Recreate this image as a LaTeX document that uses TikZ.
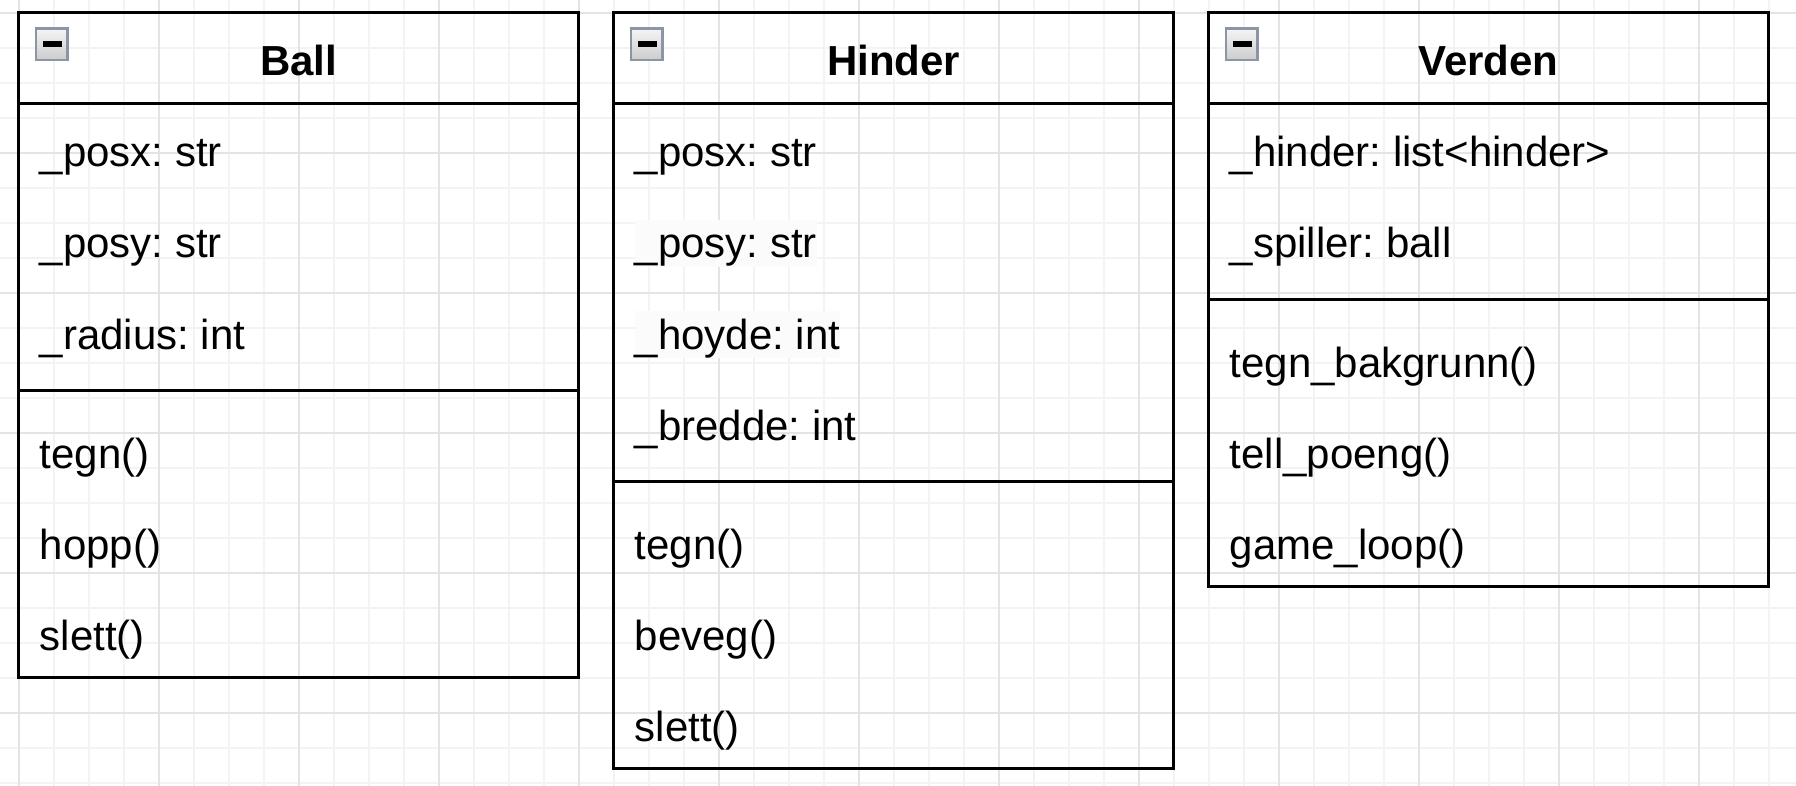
\documentclass[tikz,border=0pt]{standalone}
\usepackage{fontspec}
\setmainfont{Liberation Sans}
\frenchspacing
\definecolor{gridminor}{RGB}{243,243,243}
\definecolor{gridmajor}{RGB}{228,228,228}
\definecolor{iconborder}{RGB}{140,149,166}
\definecolor{labelbg}{RGB}{251,251,251}
\begin{document}
\begin{tikzpicture}[x=1pt,y=-1pt,
  classbox/.style={draw=black, line width=3.5pt, inner sep=0pt, outer sep=0pt, anchor=north west, minimum width=560pt},
  member/.style={anchor=base west, inner sep=0pt, font=\fontsize{42}{50}\selectfont\frenchspacing},
  classtitle/.style={anchor=base, inner sep=0pt, font=\fontsize{42}{50}\selectfont\bfseries},
  divider/.style={draw=black, line width=3.5pt},
  iconbox/.style={draw=iconborder, line width=2.5pt, top color=white!96!black, bottom color=white!80!black},
  iconbar/.style={fill=black},
  gridmin/.style={draw=gridminor, line width=2pt},
  gridmaj/.style={draw=gridmajor, line width=2pt},
  labbg/.style={fill=labelbg}
]
\useasboundingbox (0,0) rectangle (1796,786);
\fill[white] (0,0) rectangle (1796,786);
% grid
\foreach \k in {0,...,50} { \draw[gridmin] (18.6+35*\k,0) -- (18.6+35*\k,786); }
\foreach \k in {0,...,22} { \draw[gridmin] (0,12.7+35*\k) -- (1796,12.7+35*\k); }
\foreach \k in {0,...,12} { \draw[gridmaj] (18.6+140*\k,0) -- (18.6+140*\k,786); }
\foreach \k in {0,...,5} { \draw[gridmaj] (0,12.7+140*\k) -- (1796,12.7+140*\k); }

% ---------- Ball ----------
\node[classbox, minimum height=665pt] (ball) at (18.6,12.7) {};
\draw[divider] (18.6,103.7) -- (578.6,103.7);
\draw[divider] (18.6,390.7) -- (578.6,390.7);
\node[classtitle] (balltitle) at (298.6,76) {Ball};
\draw[iconbox] (36,28.3) rectangle (67.7,60);
\fill[iconbar] (42.5,41) rectangle (61.5,47);
\node[member] (b1) at (39.6,167) {\_posx: str};
\node[member] (b2) at (39.6,258) {\_posy: str};
\node[member] (b3) at (39.6,349) {\_radius: int};
\node[member] (b4) at (39.6,468) {tegn()};
\node[member] (b5) at (39.6,559) {hopp()};
\node[member] (b6) at (39.6,650) {slett()};

% ---------- Hinder ----------
\node[classbox, minimum height=756pt] (hinder) at (613.6,12.7) {};
\draw[divider] (613.6,103.7) -- (1173.6,103.7);
\draw[divider] (613.6,481.7) -- (1173.6,481.7);
\node[classtitle] (hindertitle) at (893.6,76) {Hinder};
\draw[iconbox] (631,28.3) rectangle (662.7,60);
\fill[iconbar] (637.5,41) rectangle (656.5,47);
\node[member] (h1) at (634.6,167) {\_posx: str};
\node[member, labbg] (h2) at (634.6,258) {\rule[-8.9pt]{0pt}{46.9pt}\_posy: str};
\node[member, labbg] (h3) at (634.6,349) {\rule[-8.9pt]{0pt}{46.9pt}\_hoyde: int};
\node[member] (h4) at (634.6,440) {\_bredde: int};
\node[member] (h5) at (634.6,559) {tegn()};
\node[member] (h6) at (634.6,650) {beveg()};
\node[member] (h7) at (634.6,741) {slett()};

% ---------- Verden ----------
\node[classbox, minimum height=574pt] (verden) at (1208.6,12.7) {};
\draw[divider] (1208.6,103.7) -- (1768.6,103.7);
\draw[divider] (1208.6,299.7) -- (1768.6,299.7);
\node[classtitle] (verdentitle) at (1488.6,76) {Verden};
\draw[iconbox] (1226,28.3) rectangle (1257.7,60);
\fill[iconbar] (1232.5,41) rectangle (1251.5,47);
\node[member] (v1) at (1229.6,167) {\_hinder: list<hinder>};
\node[member] (v2) at (1229.6,258) {\_spiller: ball};
\node[member] (v3) at (1229.6,377) {tegn\_bakgrunn()};
\node[member] (v4) at (1229.6,468) {tell\_poeng()};
\node[member] (v5) at (1229.6,559) {game\_loop()};
\end{tikzpicture}
\end{document}
